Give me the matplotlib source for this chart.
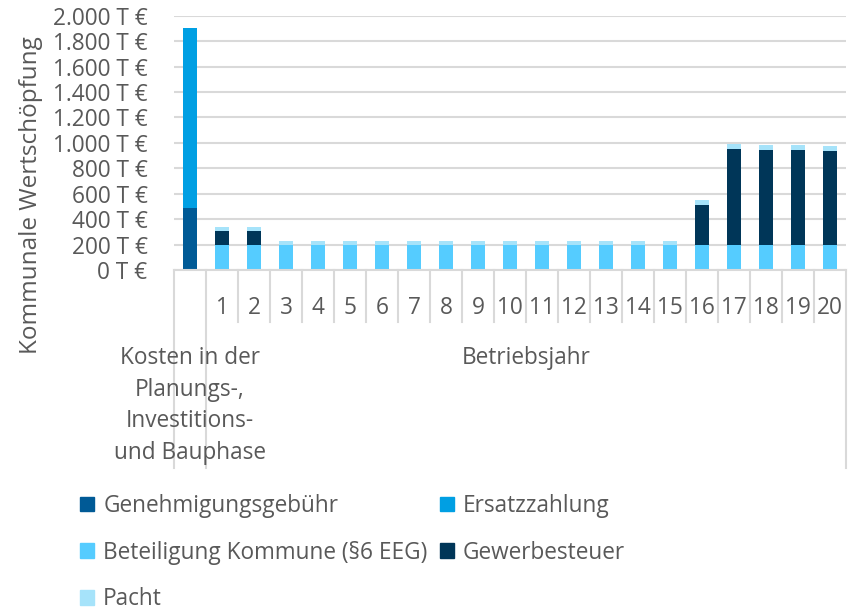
import numpy as np
import matplotlib
matplotlib.use("Agg")
import matplotlib.pyplot as plt
from matplotlib.patches import Patch
import matplotlib.transforms as mtransforms

plt.rcParams["font.family"] = ["Open Sans", "DejaVu Sans"]

# categories: first one is the construction phase, then operating years 1..20
years = [str(i) for i in range(1, 21)]
categories = [""] + years

genehmigung = [490] + [0] * 20
ersatz = [1410] + [0] * 20
beteiligung = [0] + [200] * 20
gewerbe = [0, 110, 110] + [0] * 13 + [310, 753, 745, 740, 737]
pacht = [0, 30, 30] + [27] * 13 + [40, 40, 42, 42, 40]

series = [
    ("Genehmigungsgebühr", genehmigung, "#005A96"),
    ("Ersatzzahlung", ersatz, "#009FE3"),
    ("Beteiligung Kommune (§6 EEG)", beteiligung, "#55CCFF"),
    ("Gewerbesteuer", gewerbe, "#003658"),
    ("Pacht", pacht, "#A6E3FA"),
]

text_color = "#595959"
grid_color = "#D9D9D9"
fs = 16.3

fig = plt.figure(figsize=(8.58, 6.13), dpi=100)
ax = fig.add_axes([174 / 858, 1 - 270 / 613, 672 / 858, 254.3 / 613])

x = np.arange(len(categories))
bottom = np.zeros(len(categories))
handles = {}
for name, vals, col in series:
    vals = np.array(vals, dtype=float)
    ax.bar(x, vals, bottom=bottom, width=0.44, color=col, zorder=3)
    bottom += vals
    handles[name] = Patch(color=col, label=name)

ax.set_xlim(-0.5, len(categories) - 0.5)
ax.set_ylim(0, 2000)
ax.set_yticks(np.arange(0, 2001, 200))
ax.set_yticklabels([f"{v:,.0f} T €".replace(",", ".") for v in range(0, 2001, 200)])
ax.tick_params(axis="y", length=0, pad=19, labelsize=fs, labelcolor=text_color)
ax.set_xticks([])
ax.grid(axis="y", color=grid_color, linewidth=1.5, zorder=0)
for s in ["left", "right", "top"]:
    ax.spines[s].set_visible(False)
ax.spines["bottom"].set_color(grid_color)
ax.spines["bottom"].set_linewidth(1.5)
ax.spines["bottom"].set_zorder(4)

# multi-level category axis
trans = mtransforms.blended_transform_factory(ax.transData, ax.transAxes)
inner_y = -52 / 254.3
outer_y = -198 / 254.3
for b in np.arange(-0.5, len(categories), 1.0):
    y_end = outer_y if b in (-0.5, 0.5, len(categories) - 0.5) else inner_y
    ax.plot([b, b], [0, y_end], color=grid_color, lw=1.5, transform=trans, clip_on=False)

for xi, lab in zip(x, categories):
    ax.text(xi, -38 / 254.3, lab, transform=trans, ha="center", va="center",
            fontsize=fs, color=text_color)

ax.text(0, -76 / 254.3, "Kosten in der\nPlanungs-,\nInvestitions-\nund Bauphase",
        transform=trans, ha="center", va="top", fontsize=fs, color=text_color,
        linespacing=1.42)
ax.text(10.5, -76 / 254.3, "Betriebsjahr", transform=trans, ha="center", va="top",
        fontsize=fs, color=text_color)

fig.text(31 / 858, 1 - 195 / 613, "Kommunale Wertschöpfung", rotation=90,
         ha="center", va="center", fontsize=17.5, color=text_color)

order = ["Genehmigungsgebühr", "Beteiligung Kommune (§6 EEG)", "Pacht",
         "Ersatzzahlung", "Gewerbesteuer"]
fig.legend([handles[n] for n in order], order, ncol=2, frameon=False,
           loc="upper left", bbox_to_anchor=(62 / 858, 1 - 476 / 613),
           fontsize=fs, labelcolor=text_color, handlelength=0.62, handleheight=0.62,
           handletextpad=0.4, columnspacing=0.55, labelspacing=1.0,
           borderpad=0.3)

fig.savefig("out.png", dpi=100)
